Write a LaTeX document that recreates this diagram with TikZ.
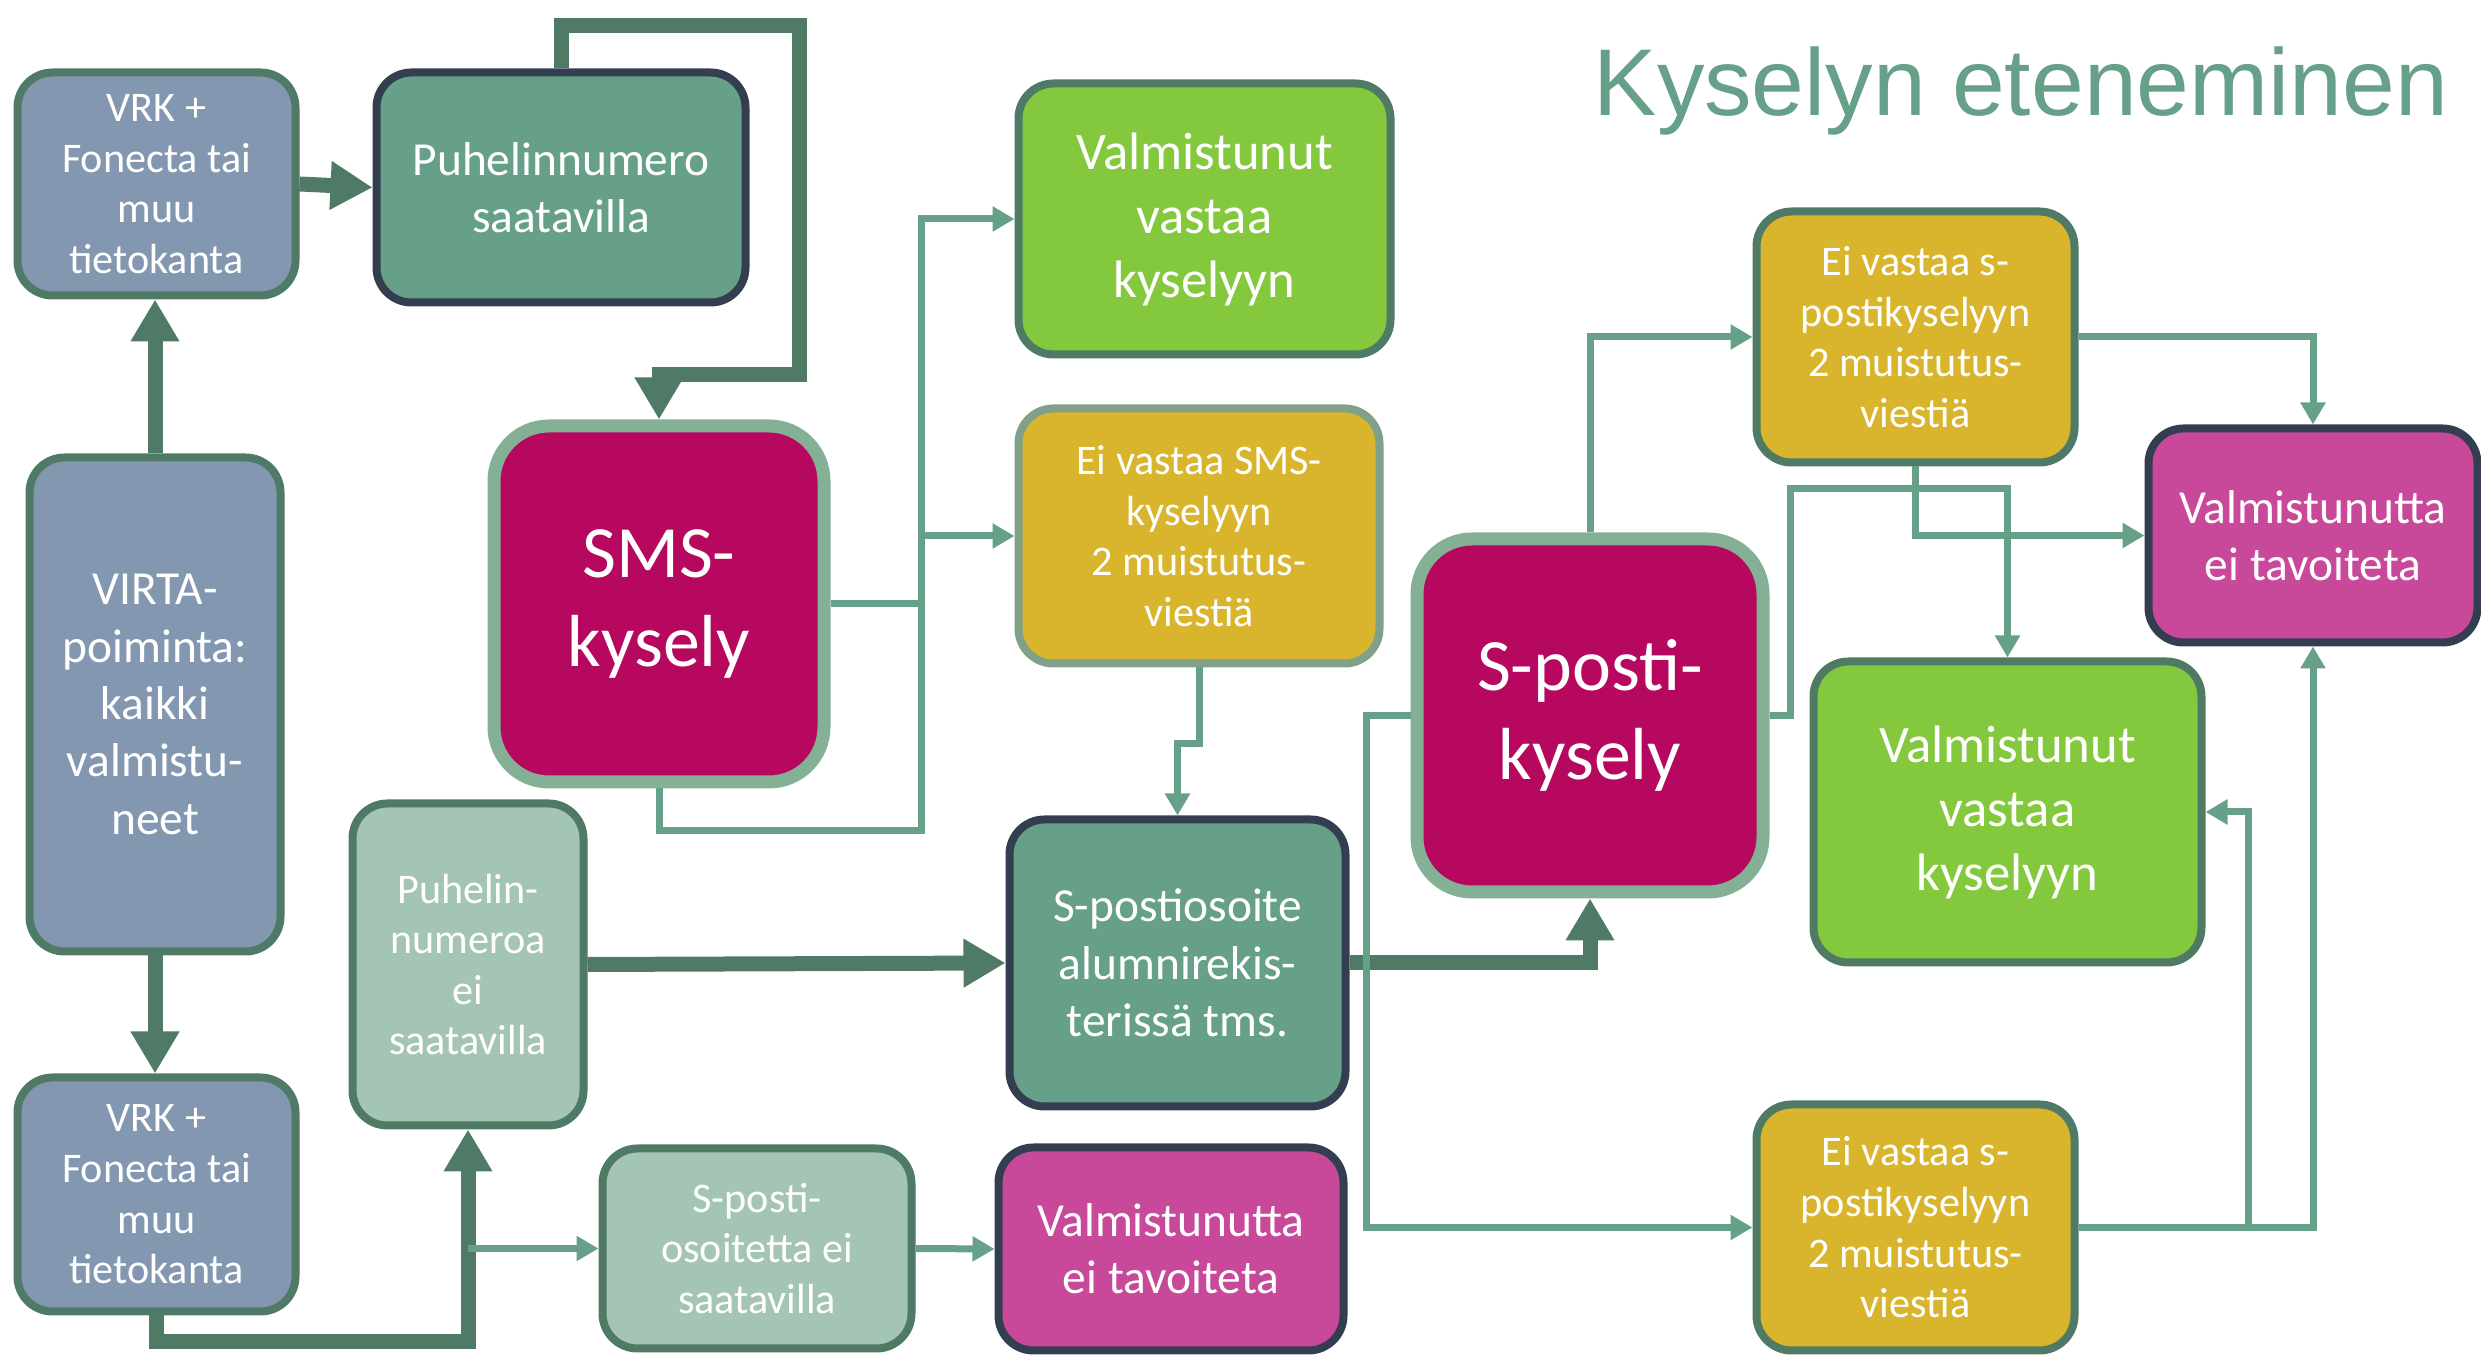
\documentclass[tikz,border=0pt]{standalone}
\usepackage{fontspec}
\setmainfont{Carlito}
\newfontfamily\titlefont{Liberation Sans}
\usetikzlibrary{arrows.meta}

\definecolor{boxblue}{HTML}{8497B0}
\definecolor{darkgreen}{HTML}{4E7A66}
\definecolor{midgreen}{HTML}{66A088}
\definecolor{navy}{HTML}{333F50}
\definecolor{lightgreen}{HTML}{84B096}
\definecolor{smsred}{HTML}{B5085E}
\definecolor{leafgreen}{HTML}{84C83E}
\definecolor{mustard}{HTML}{D8B52C}
\definecolor{greyline}{HTML}{80A08A}
\definecolor{palegreen}{HTML}{A4C4B4}
\definecolor{pinkbox}{HTML}{C8489A}

\begin{document}
\begin{tikzpicture}[
	box/.style={
		draw=darkgreen,
		rounded corners=0.35cm,
		line width=0.08cm,
		text=white,
		align=center,
		inner sep=0pt
	},
	bigbox/.style={box, rounded corners=0.55cm, line width=0.13cm,
		draw=lightgreen, fill=smsred, font=\fontsize{21}{25.5}\selectfont},
	fsmall/.style={font=\fontsize{12}{14.4}\selectfont},
	fmid/.style={font=\fontsize{13.5}{16.3}\selectfont},
	flarge/.style={font=\fontsize{15}{18.2}\selectfont},
	bigarrow/.style={draw=darkgreen, line width=0.15cm,
		-{Triangle[length=0.42cm,width=0.46cm]}},
	smallarrow/.style={draw=midgreen, line width=0.07cm,
		-{Triangle[length=0.22cm,width=0.24cm]}},
	smallline/.style={draw=midgreen, line width=0.07cm}]

	\useasboundingbox (0,0) rectangle (24.81,-13.55);

	\node[anchor=base west, inner sep=0pt, text=midgreen,
		font=\titlefont\fontsize{27}{30}\selectfont] (title) at (15.93,-1.155)
		{Kyselyn eteneminen};

	% sources
	\node[box, fsmall, fill=boxblue, minimum width=2.78cm, minimum height=2.23cm]
		(vrk1) at (1.565,-1.84) {VRK +\\Fonecta tai\\muu\\tietokanta};
	\node[box, fmid, fill=boxblue, minimum width=2.51cm, minimum height=4.94cm]
		(virta) at (1.55,-7.045) {VIRTA-\\poiminta:\\kaikki\\valmistu-\\neet};
	\node[box, fsmall, fill=boxblue, minimum width=2.78cm, minimum height=2.34cm]
		(vrk2) at (1.565,-11.945) {VRK +\\Fonecta tai\\muu\\tietokanta};

	\node[box, fmid, draw=navy, fill=midgreen, minimum width=3.69cm, minimum height=2.3cm]
		(puh) at (5.61,-1.875) {Puhelinnumero\\saatavilla};
	\node[box, fsmall, fill=palegreen, minimum width=2.31cm, minimum height=3.22cm]
		(puhnot) at (4.68,-9.645) {Puhelin-\\numeroa\\ei\\saatavilla};
	\node[box, fsmall, fill=palegreen, minimum width=3.09cm, minimum height=2cm]
		(spnot) at (7.57,-12.485) {S-posti-\\osoitetta ei\\saatavilla};

	% SMS
	\node[bigbox, minimum width=3.3cm, minimum height=3.56cm]
		(sms) at (6.59,-6.04) {SMS-\\kysely};
	\node[box, flarge, fill=leafgreen, minimum width=3.72cm, minimum height=2.71cm]
		(val1) at (12.045,-2.19) {Valmistunut\\vastaa\\kyselyyn};
	\node[box, fsmall, draw=greyline, fill=mustard, minimum width=3.61cm, minimum height=2.55cm]
		(eisms) at (11.99,-5.36) {Ei vastaa SMS-\\kyselyyn\\2 muistutus-\\viestiä};
	\node[box, fmid, draw=navy, fill=midgreen, minimum width=3.36cm, minimum height=2.87cm]
		(spos) at (11.775,-9.63) {S-postiosoite\\alumnirekis-\\terissä tms.};
	\node[box, fmid, draw=navy, fill=pinkbox, minimum width=3.45cm, minimum height=2.03cm]
		(eitav1) at (11.71,-12.49) {Valmistunutta\\ei tavoiteta};

	% S-posti
	\node[bigbox, minimum width=3.46cm, minimum height=3.53cm]
		(spk) at (15.9,-7.155) {S-posti-\\kysely};
	\node[box, fsmall, fill=mustard, minimum width=3.18cm, minimum height=2.51cm]
		(eisp1) at (19.155,-3.37) {Ei vastaa s-\\postikyselyyn\\2 muistutus-\\viestiä};
	\node[box, fmid, draw=navy, fill=pinkbox, minimum width=3.29cm, minimum height=2.14cm]
		(eitav2) at (23.13,-5.355) {Valmistunutta\\ei tavoiteta};
	\node[box, flarge, fill=leafgreen, minimum width=3.88cm, minimum height=3.01cm]
		(val2) at (20.075,-8.12) {Valmistunut\\vastaa\\kyselyyn};
	\node[box, fsmall, fill=mustard, minimum width=3.18cm, minimum height=2.46cm]
		(eisp2) at (19.155,-12.275) {Ei vastaa s-\\postikyselyyn\\2 muistutus-\\viestiä};

	\coordinate (smsbus) at (9.21,-8.31);
	\coordinate (ebend) at (11.775,-7.44);
	\coordinate (spl) at (13.66,-7.155);
	\coordinate (spr) at (17.9,-7.155);
	\coordinate (sptop) at (20.075,-4.89);
	\coordinate (ybus) at (22.48,-12.275);
	\coordinate (loopa) at (7.99,-0.26);
	\coordinate (loopb) at (7.99,-3.75);
	\coordinate (vrkbus) at (4.68,-13.42);

	% thick connectors
	\draw[bigarrow] (virta.north) -- (virta.north |- vrk1.south);
	\draw[bigarrow] (virta.south) -- (virta.south |- vrk2.north);
	\draw[bigarrow] (vrk1.east) -- (puh.west);
	\draw[bigarrow] (puh.north) |- (loopa) -- (loopb) -| (sms.north);
	\draw[bigarrow] (vrk2.south) |- (vrkbus) -- (puhnot.south);
	\draw[bigarrow] (puhnot.east) -- (spos.west);
	\draw[bigarrow] (spos.east) -| (spk.south);

	% thin connectors
	\draw[smallarrow] (vrkbus |- spnot.west) -- (spnot.west);
	\draw[smallarrow] (spnot.east) -- (eitav1.west);
	\draw[smallline] (sms.east) -- (sms.east -| smsbus);
	\draw[smallarrow] (sms.south) |- (smsbus) |- (val1.west);
	\draw[smallarrow] (smsbus |- eisms.west) -- (eisms.west);
	\draw[smallarrow] (eisms.south) |- (ebend) -- (spos.north);
	\draw[smallarrow] (spk.north) |- (eisp1.west);
	\draw[smallarrow] (spk.west) -- (spl) |- (eisp2.west);
	\draw[smallarrow] (spk.east) -- (spr) |- (sptop) -- (val2.north);
	\draw[smallarrow] (eisp1.east) -| (eitav2.north);
	\draw[smallarrow] (eisp1.south) |- (eitav2.west);
	\draw[smallline] (eisp2.east) -- (ybus);
	\draw[smallarrow] (ybus) |- (val2.east);
	\draw[smallarrow] (ybus) -| (eitav2.south);
\end{tikzpicture}
\end{document}
